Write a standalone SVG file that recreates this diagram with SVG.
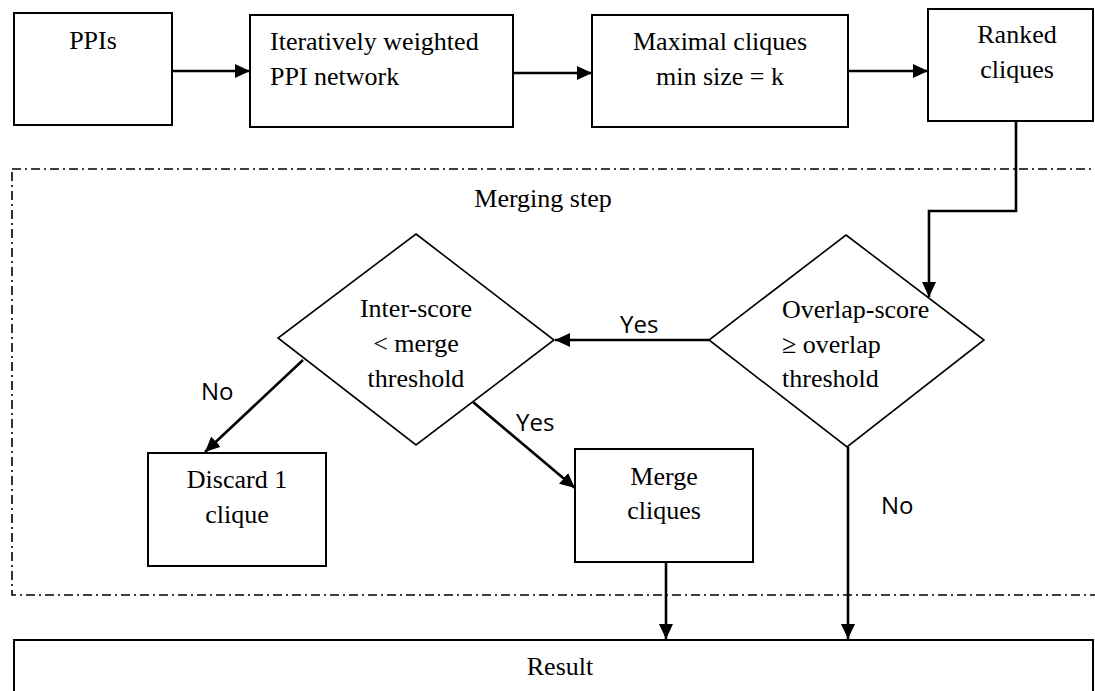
<svg xmlns="http://www.w3.org/2000/svg" width="1095" height="691" viewBox="0 0 1095 691">
<defs>
<marker id="arr" markerUnits="userSpaceOnUse" markerWidth="16" markerHeight="14" viewBox="0 0 16 14" refX="15" refY="7" orient="auto">
<path d="M0,0 L15,7 L0,14 Z" fill="#000"/>
</marker>
</defs>
<style>
.box{fill:#fff;stroke:#000;stroke-width:2}
.dia{fill:#fff;stroke:#000;stroke-width:1.6}
.t{font-family:"Liberation Serif","Times New Roman",serif;font-size:26px;fill:#000}
.s{font-family:"Open Sans","Liberation Sans",sans-serif;font-size:24px;fill:#000}
.c{stroke:#000;stroke-width:2.6;fill:none}
.region{fill:none;stroke:#000;stroke-width:1.6;stroke-dasharray:9 4 2 4}
</style>
<rect width="1095" height="691" fill="#fff"/>
<g id="merging-step">
<rect class="region" x="12" y="169" width="1100" height="426"/>
<text class="t" x="543" y="207" text-anchor="middle">Merging step</text>
</g>
<g id="ppis">
<rect class="box" x="14" y="13" width="158" height="112"/>
<text class="t" x="93" y="49" text-anchor="middle">PPIs</text>
</g>
<g id="weighted-network">
<rect class="box" x="250" y="15" width="263" height="112"/>
<text class="t" x="270" y="50">Iteratively weighted</text>
<text class="t" x="270" y="85">PPI network</text>
</g>
<g id="maximal-cliques">
<rect class="box" x="592" y="15" width="256" height="112"/>
<text class="t" x="720" y="50" text-anchor="middle">Maximal cliques</text>
<text class="t" x="720" y="85" text-anchor="middle">min size = k</text>
</g>
<g id="ranked-cliques">
<rect class="box" x="928" y="9" width="165" height="112"/>
<text class="t" x="1017" y="43" text-anchor="middle">Ranked</text>
<text class="t" x="1017" y="78" text-anchor="middle">cliques</text>
</g>
<g id="overlap-decision">
<polygon class="dia" points="846,235 984,340 847,447 709,340"/>
<text class="t" x="782" y="318">Overlap-score</text>
<text class="t" x="782" y="353">≥ overlap</text>
<text class="t" x="782" y="387">threshold</text>
</g>
<g id="inter-decision">
<polygon class="dia" points="416,234 554,340 416,445 278,338"/>
<text class="t" x="416" y="317" text-anchor="middle">Inter-score</text>
<text class="t" x="416" y="352" text-anchor="middle">&lt; merge</text>
<text class="t" x="416" y="387" text-anchor="middle">threshold</text>
</g>
<g id="discard">
<rect class="box" x="148" y="453" width="178" height="113"/>
<text class="t" x="237" y="488" text-anchor="middle">Discard 1</text>
<text class="t" x="237" y="523" text-anchor="middle">clique</text>
</g>
<g id="merge">
<rect class="box" x="575" y="449" width="178" height="113"/>
<text class="t" x="664" y="485" text-anchor="middle">Merge</text>
<text class="t" x="664" y="519" text-anchor="middle">cliques</text>
</g>
<g id="result">
<rect class="box" x="14" y="640" width="1079" height="70"/>
<text class="t" x="560" y="675" text-anchor="middle">Result</text>
</g>
<g id="connectors">
<line class="c" x1="172" y1="71" x2="250" y2="71" marker-end="url(#arr)"/>
<line class="c" x1="513" y1="73" x2="592" y2="73" marker-end="url(#arr)"/>
<line class="c" x1="848" y1="71" x2="928" y2="71" marker-end="url(#arr)"/>
<polyline class="c" points="1016,121 1016,211 929,211 929,297" marker-end="url(#arr)"/>
<line class="c" x1="709" y1="340" x2="555" y2="340" marker-end="url(#arr)"/>
<line class="c" x1="303" y1="360" x2="205" y2="452" marker-end="url(#arr)"/>
<line class="c" x1="473" y1="402" x2="575" y2="488" marker-end="url(#arr)"/>
<line class="c" x1="666" y1="562" x2="666" y2="639" marker-end="url(#arr)"/>
<line class="c" x1="848" y1="447" x2="848" y2="639" marker-end="url(#arr)"/>
<text class="s" x="620" y="333">Yes</text>
<text class="s" x="201" y="400">No</text>
<text class="s" x="516" y="431">Yes</text>
<text class="s" x="881" y="514">No</text>
</g>
</svg>
